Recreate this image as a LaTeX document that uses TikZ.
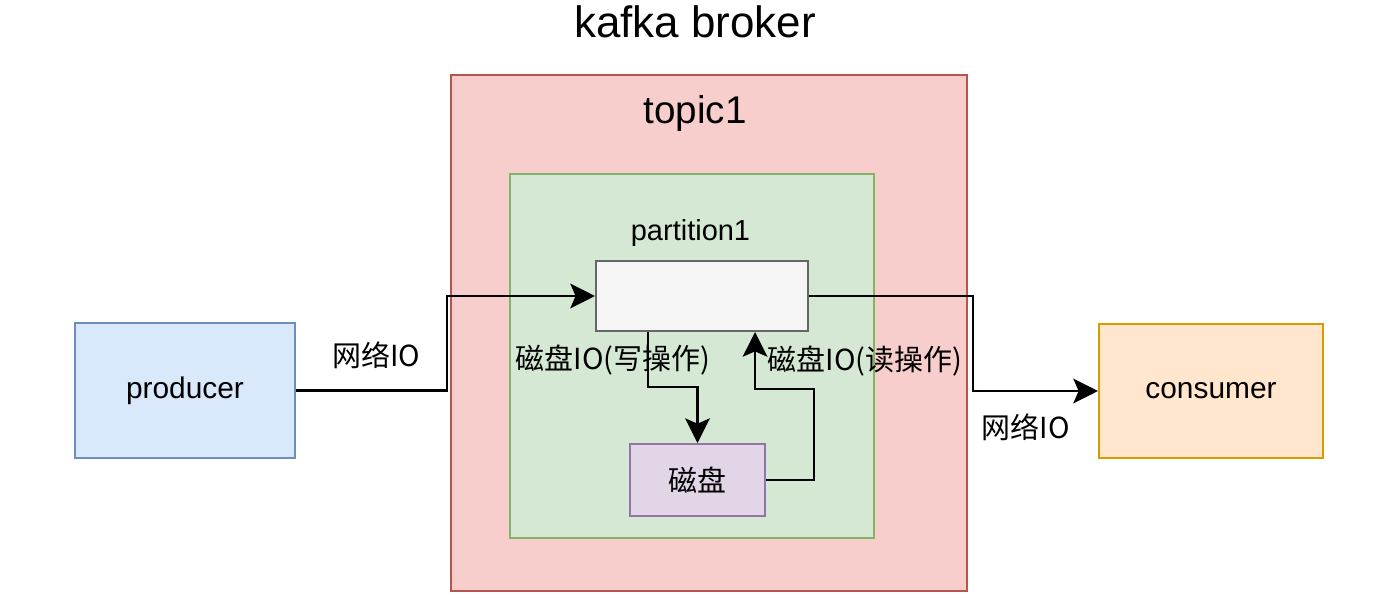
\documentclass[tikz,border=0pt]{standalone}
\usepackage{fontspec}
\setmainfont{Liberation Sans}
\newfontfamily\cjk{Noto Sans CJK SC}
\usetikzlibrary{positioning}
\usetikzlibrary{arrows.meta}
\usetikzlibrary{backgrounds}

\definecolor{topicfill}{HTML}{F8CECC}
\definecolor{topicline}{HTML}{B85450}
\definecolor{partfill}{HTML}{D5E8D4}
\definecolor{partline}{HTML}{82B366}
\definecolor{logfill}{HTML}{F5F5F5}
\definecolor{logline}{HTML}{666666}
\definecolor{diskfill}{HTML}{E1D5E7}
\definecolor{diskline}{HTML}{9673A6}
\definecolor{prodfill}{HTML}{DAE8FC}
\definecolor{prodline}{HTML}{6C8EBF}
\definecolor{consfill}{HTML}{FFE6CC}
\definecolor{consline}{HTML}{D79B00}

\begin{document}
\begin{tikzpicture}[x=0.02cm, y=-0.02cm, line width=1.2pt,
		cjklabel/.style={font=\cjk\fontsize{16.5}{20}\selectfont},
		flow/.style={draw, line width=1.6pt, ->, >={Stealth[length=14pt, width=14pt, inset=3pt]}}]
			\useasboundingbox (0,0) rectangle (1390,598);
			\node[draw=topicline, fill=topicfill, minimum width=10.32cm, minimum height=10.32cm] (topic) at (709,333) {};
			\node[draw=partline, fill=partfill, minimum width=7.28cm, minimum height=7.28cm] (partbox) at (692,356) {};
			\node[draw=logline, fill=logfill, minimum width=4.24cm, minimum height=1.4cm] (part) at (702,296) {};
			\node[draw=diskline, fill=diskfill, minimum width=2.7cm, minimum height=1.44cm, below=2.22cm of part, xshift=-0.09cm, cjklabel] (disk) {磁盘};
			\node[draw=prodline, fill=prodfill, minimum width=4.4cm, minimum height=2.7cm, font=\fontsize{17}{20}\selectfont] (producer) at (185,390.5) {producer};
			\node[draw=consline, fill=consfill, minimum width=4.48cm, minimum height=2.68cm, font=\fontsize{17}{20}\selectfont] (consumer) at (1211,391) {consumer};
			\node[above=0.7cm of topic, xshift=-0.28cm, inner sep=0, font=\fontsize{25}{30}\selectfont] (broker) {kafka broker};
			\node[below=0.4cm of topic.north, xshift=-0.28cm, inner sep=0, font=\fontsize{22}{26}\selectfont] (topicname) {topic1};
			\node[above=0.24cm of part, xshift=-0.23cm, inner sep=0, font=\fontsize{16.5}{20}\selectfont] (partname) {partition1};
			\path[flow] (producer.east) -- node[pos=0.53, above=8pt, cjklabel]{网络IO} ++(151,0) |- (part.west);
			\path[flow] (part.east) -- ++(164,0) |- node[pos=0.71, below=9pt, cjklabel]{网络IO} (consumer.west);
			\path[flow] ([xshift=1.06cm]part.south west) -- node[xshift=-0.7cm, cjklabel]{磁盘IO(写操作)} ++(0,55) -| (disk.north);
			\path[flow] (disk.east) -- ++(48,0) -- ++(0,-91) -| node[pos=0.75, right=3pt, cjklabel]{磁盘IO(读操作)} ([xshift=-1.08cm]part.south east);
		\end{tikzpicture}
\end{document}
